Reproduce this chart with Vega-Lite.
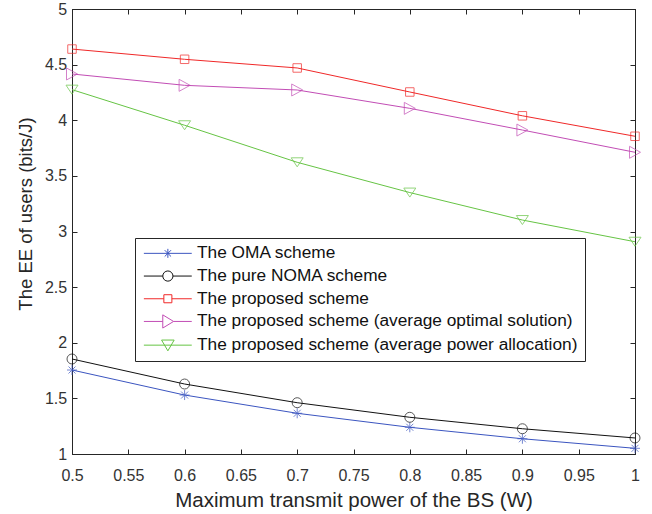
{
  "$schema": "https://vega.github.io/schema/vega-lite/v6.json",
  "width": 563,
  "height": 445,
  "autosize": "none",
  "padding": {"left": 72, "top": 9, "right": 17, "bottom": 60},
  "background": "white",
  "config": {
    "font": "Liberation Sans",
    "view": {"stroke": "#262626", "strokeWidth": 1},
    "axis": {
      "grid": false,
      "domainColor": "#262626",
      "tickColor": "#262626",
      "tickSize": -5,
      "labelFlush": false,
      "labelFont": "Liberation Sans",
      "labelFontSize": 16,
      "labelColor": "#333333",
      "titleFont": "Liberation Sans",
      "titleFontWeight": "normal",
      "titleColor": "#262626"
    }
  },
  "data": {
    "values": [
      {"series": "The OMA scheme", "p": 0.5, "ee": 1.755},
      {"series": "The OMA scheme", "p": 0.6, "ee": 1.530},
      {"series": "The OMA scheme", "p": 0.7, "ee": 1.366},
      {"series": "The OMA scheme", "p": 0.8, "ee": 1.240},
      {"series": "The OMA scheme", "p": 0.9, "ee": 1.137},
      {"series": "The OMA scheme", "p": 1.0, "ee": 1.051},
      {"series": "The pure NOMA scheme", "p": 0.5, "ee": 1.854},
      {"series": "The pure NOMA scheme", "p": 0.6, "ee": 1.629},
      {"series": "The pure NOMA scheme", "p": 0.7, "ee": 1.461},
      {"series": "The pure NOMA scheme", "p": 0.8, "ee": 1.330},
      {"series": "The pure NOMA scheme", "p": 0.9, "ee": 1.227},
      {"series": "The pure NOMA scheme", "p": 1.0, "ee": 1.144},
      {"series": "The proposed scheme", "p": 0.5, "ee": 4.640},
      {"series": "The proposed scheme", "p": 0.6, "ee": 4.548},
      {"series": "The proposed scheme", "p": 0.7, "ee": 4.470},
      {"series": "The proposed scheme", "p": 0.8, "ee": 4.254},
      {"series": "The proposed scheme", "p": 0.9, "ee": 4.040},
      {"series": "The proposed scheme", "p": 1.0, "ee": 3.856},
      {"series": "The proposed scheme (average optimal solution)", "p": 0.5, "ee": 4.416},
      {"series": "The proposed scheme (average optimal solution)", "p": 0.6, "ee": 4.314},
      {"series": "The proposed scheme (average optimal solution)", "p": 0.7, "ee": 4.272},
      {"series": "The proposed scheme (average optimal solution)", "p": 0.8, "ee": 4.107},
      {"series": "The proposed scheme (average optimal solution)", "p": 0.9, "ee": 3.912},
      {"series": "The proposed scheme (average optimal solution)", "p": 1.0, "ee": 3.712},
      {"series": "The proposed scheme (average power allocation)", "p": 0.5, "ee": 4.275},
      {"series": "The proposed scheme (average power allocation)", "p": 0.6, "ee": 3.955},
      {"series": "The proposed scheme (average power allocation)", "p": 0.7, "ee": 3.622},
      {"series": "The proposed scheme (average power allocation)", "p": 0.8, "ee": 3.350},
      {"series": "The proposed scheme (average power allocation)", "p": 0.9, "ee": 3.103},
      {"series": "The proposed scheme (average power allocation)", "p": 1.0, "ee": 2.908}
    ]
  },
  "resolve": {
    "scale": {"color": "independent", "shape": "independent"},
    "axis": {"x": "independent", "y": "independent"}
  },
  "layer": [
    {
      "mark": {"type": "line", "strokeWidth": 1},
      "encoding": {
        "x": {
          "field": "p", "type": "quantitative",
          "scale": {"domain": [0.5, 1], "nice": false, "zero": false},
          "axis": {
            "orient": "bottom",
            "values": [0.5, 0.55, 0.6, 0.65, 0.7, 0.75, 0.8, 0.85, 0.9, 0.95, 1],
            "format": "~g",
            "labelPadding": 18,
            "title": "Maximum transmit power of the BS (W)",
            "titleFontSize": 20.5,
            "titleBaseline": "alphabetic",
            "titleY": 52.7
          }
        },
        "y": {
          "field": "ee", "type": "quantitative",
          "scale": {"domain": [1, 5], "nice": false, "zero": false},
          "axis": {
            "orient": "left",
            "values": [1, 1.5, 2, 2.5, 3, 3.5, 4, 4.5, 5],
            "format": "~g",
            "labelPadding": 10.3,
            "title": "The EE of users (bits/J)",
            "titleFontSize": 18.5,
            "titleBaseline": "alphabetic",
            "titleX": -41,
            "titleY": 204.5
          }
        },
        "color": {
          "field": "series", "type": "nominal", "legend": null,
          "scale": {
            "domain": ["The OMA scheme", "The pure NOMA scheme", "The proposed scheme", "The proposed scheme (average optimal solution)", "The proposed scheme (average power allocation)"],
            "range": ["#3b55c0", "#111111", "#f02828", "#c24db5", "#66c444"]
          }
        }
      }
    },
    {
      "mark": {"type": "point", "filled": false, "strokeWidth": 1, "size": 100},
      "encoding": {
        "x": {"field": "p", "type": "quantitative", "axis": null},
        "y": {"field": "ee", "type": "quantitative", "axis": null},
        "color": {
          "field": "series", "type": "nominal", "legend": null,
          "scale": {
            "domain": ["The OMA scheme", "The pure NOMA scheme", "The proposed scheme", "The proposed scheme (average optimal solution)", "The proposed scheme (average power allocation)"],
            "range": ["#3b55c0", "#111111", "#f02828", "#c24db5", "#66c444"]
          }
        },
        "shape": {
          "field": "series", "type": "nominal", "legend": null,
          "scale": {
            "domain": ["The OMA scheme", "The pure NOMA scheme", "The proposed scheme", "The proposed scheme (average optimal solution)", "The proposed scheme (average power allocation)"],
            "range": [
              "M-1,0H1M0,-1V1M-0.7,-0.7L0.7,0.7M-0.7,0.7L0.7,-0.7",
              "M1,0A1,1,0,1,1,-1,0A1,1,0,1,1,1,0Z",
              "M-0.85,-0.85H0.85V0.85H-0.85Z",
              "M-1.1,-1.2L1.1,0L-1.1,1.2Z",
              "M-1.2,-0.9H1.2L0,0.9Z"
            ]
          }
        }
      }
    },
    {
      "mark": {"type": "point", "filled": false, "strokeWidth": 1, "opacity": 0, "size": 144},
      "encoding": {
        "x": {
          "field": "p", "type": "quantitative",
          "axis": {
            "orient": "top", "labels": false, "title": null,
            "values": [0.5, 0.55, 0.6, 0.65, 0.7, 0.75, 0.8, 0.85, 0.9, 0.95, 1]
          }
        },
        "y": {
          "field": "ee", "type": "quantitative",
          "axis": {
            "orient": "right", "labels": false, "title": null,
            "values": [1, 1.5, 2, 2.5, 3, 3.5, 4, 4.5, 5]
          }
        },
        "color": {
          "field": "series", "type": "nominal",
          "scale": {
            "domain": ["The OMA scheme", "The pure NOMA scheme", "The proposed scheme", "The proposed scheme (average optimal solution)", "The proposed scheme (average power allocation)"],
            "range": ["#3b55c0", "#111111", "#f02828", "#c24db5", "#66c444"]
          },
          "legend": {
            "title": null,
            "orient": "none",
            "legendX": 63,
            "legendY": 229,
            "symbolSize": 144,
            "symbolOpacity": 1,
            "symbolStrokeWidth": 1,
            "labelFont": "Liberation Sans",
            "labelFontSize": 17.3,
            "labelColor": "#111111",
            "labelOffset": 38,
            "labelLimit": 500,
            "rowPadding": 4.7,
            "padding": 6.7,
            "strokeColor": "#262626",
            "fillColor": "white"
          }
        },
        "shape": {
          "field": "series", "type": "nominal",
          "scale": {
            "domain": ["The OMA scheme", "The pure NOMA scheme", "The proposed scheme", "The proposed scheme (average optimal solution)", "The proposed scheme (average power allocation)"],
            "range": [
              "M-1.08,0H6.9M2.92,-0.75V0.75M2.39,-0.53L3.45,0.53M2.39,0.53L3.45,-0.53",
              "M-1.08,0H2.07M3.77,0H6.9M3.77,0A0.85,0.85,0,1,1,2.07,0A0.85,0.85,0,1,1,3.77,0Z",
              "M-1.08,0H2.25M3.59,0H6.9M2.25,-0.67H3.59V0.67H2.25Z",
              "M-1.08,0H2.07M3.87,0H6.9M2.07,-1.1L3.87,0L2.07,1.1Z",
              "M-1.08,0H6.9M1.87,-0.85H3.97L2.92,0.95Z"
            ]
          },
          "legend": {
            "title": null,
            "orient": "none",
            "legendX": 63,
            "legendY": 229,
            "symbolSize": 144,
            "symbolOpacity": 1,
            "symbolStrokeWidth": 1,
            "labelFont": "Liberation Sans",
            "labelFontSize": 17.3,
            "labelColor": "#111111",
            "labelOffset": 38,
            "labelLimit": 500,
            "rowPadding": 4.7,
            "padding": 6.7,
            "strokeColor": "#262626",
            "fillColor": "white"
          }
        }
      }
    }
  ]
}
